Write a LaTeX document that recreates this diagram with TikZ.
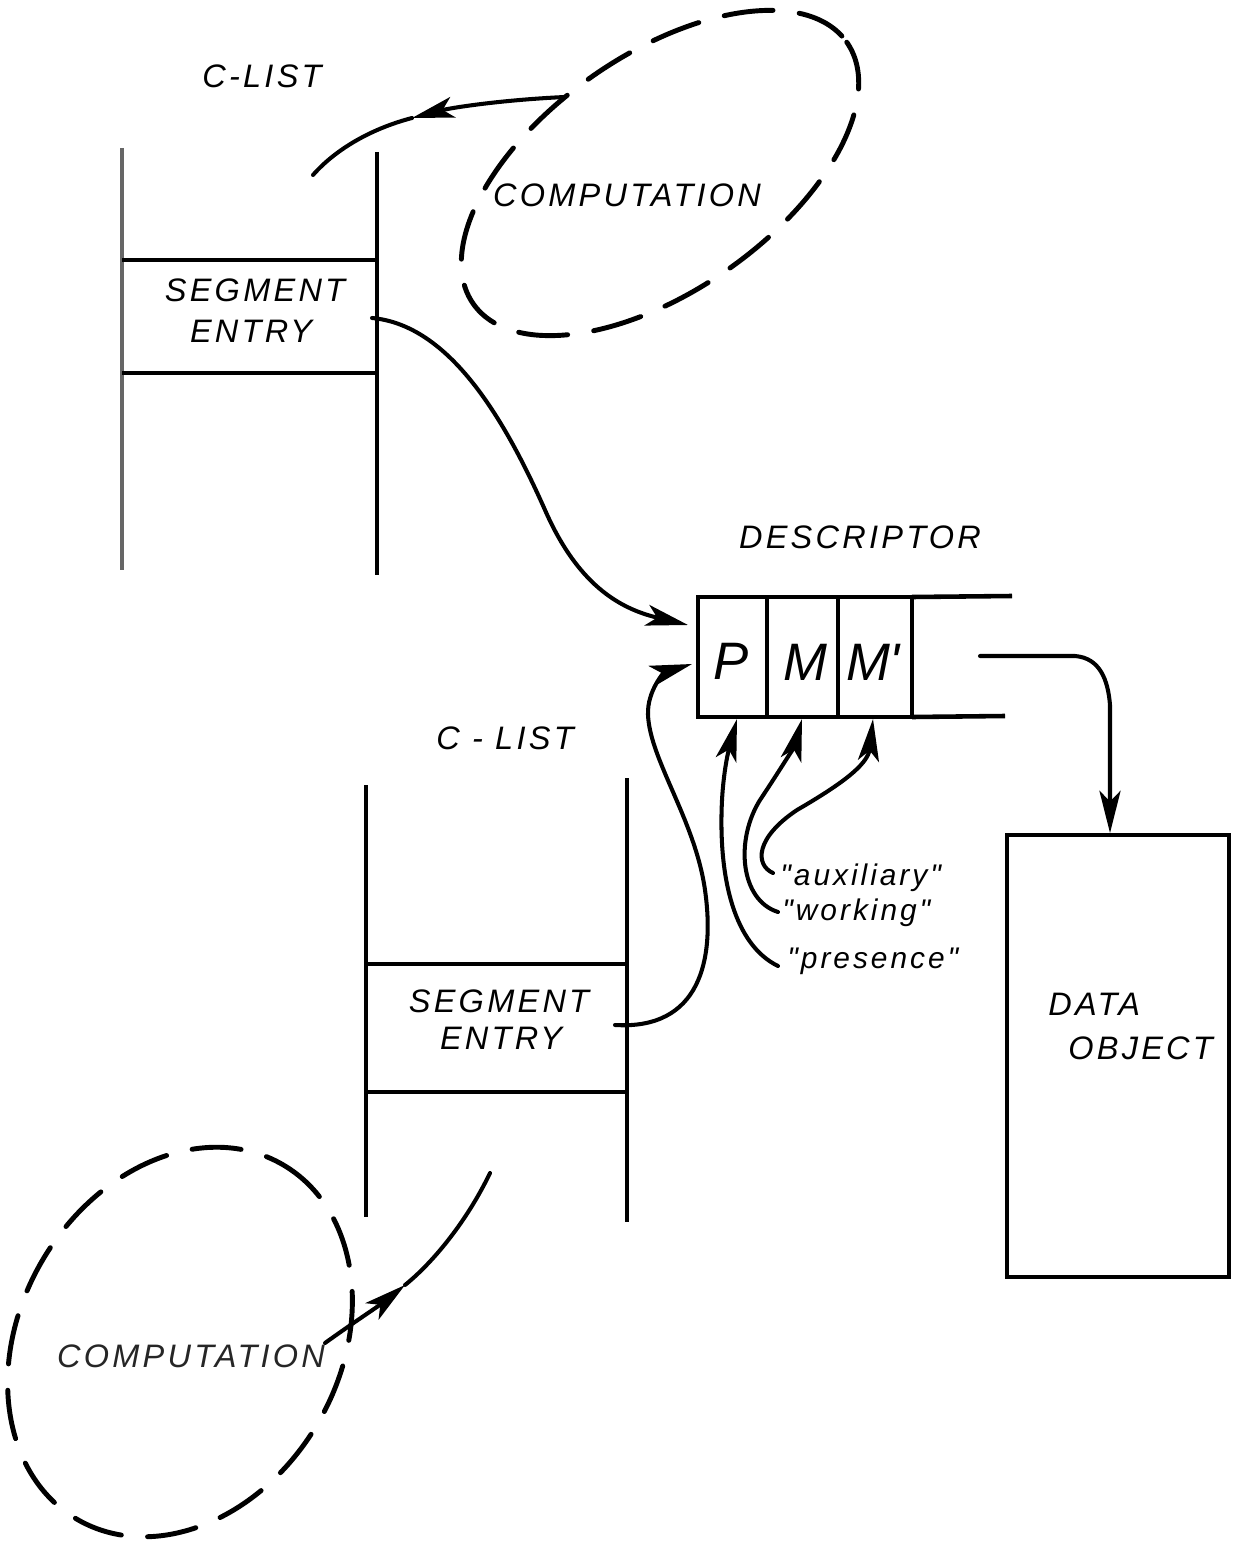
\documentclass[tikz,border=0pt]{standalone}
\usepackage{fontspec}
\newfontfamily\lettering[LetterSpace=10]{Liberation Sans}
\newfontfamily\bigletter{Liberation Sans}
\usetikzlibrary{arrows.meta}
\begin{document}
\begin{tikzpicture}[x=0.02cm,y=-0.02cm,
  ln/.style={line width=2.6pt,black},
  lightln/.style={line width=2.2pt,black!60},
  dashloop/.style={line width=2.8pt,dash pattern=on 28pt off 15pt,line cap=round},
  conn/.style={line width=2.3pt,line cap=round},
  tipend/.style={-{Stealth[length=24pt,width=12pt,inset=6pt]}},
  lbl/.style={font=\lettering\itshape\fontsize{18.5}{20}\selectfont,inner sep=0pt},
  small/.style={font=\lettering\itshape\fontsize{17}{19}\selectfont,inner sep=0pt,anchor=west},
  cell/.style={font=\bigletter\itshape\fontsize{30}{32}\selectfont,inner sep=0pt}
]
\useasboundingbox (0,0) rectangle (1233,1547);

% ---------- top C-list ----------
\node[lbl] (clist1) at (262,76) {C-LIST};
\coordinate (t1a) at (122,148); \coordinate (t1b) at (122,570);
\coordinate (t2a) at (377,152); \coordinate (t2b) at (377,575);
\draw[lightln] (t1a) -- (t1b);
\draw[ln] (t2a) -- (t2b);
\coordinate (h1a) at (122,260); \coordinate (h1b) at (377,260);
\coordinate (h2a) at (122,373); \coordinate (h2b) at (377,373);
\draw[ln] (h1a) -- (h1b);
\draw[ln] (h2a) -- (h2b);
\node[lbl] (seg1) at (255,290) {SEGMENT};
\node[lbl] (ent1) at (251,331) {ENTRY};

% ---------- top computation ----------
\node[lbl] (comp1) at (627,195) {COMPUTATION};
\coordinate (c1) at (660,173);
\draw[dashloop,rotate around={35:(c1)}] (c1) ellipse [x radius=228,y radius=118];
\coordinate (a1s) at (565,97);
\coordinate (a1m) at (412,118);
\coordinate (a1e) at (313,175);
\draw[conn,tipend] (a1s) .. controls (500,100) and (450,108) .. (a1m);
\draw[conn] (a1m) .. controls (370,129) and (335,150) .. (a1e);

% ---------- descriptor ----------
\node[lbl] (desc) at (860,537) {DESCRIPTOR};
\coordinate (dTL) at (698,597); \coordinate (dBR) at (912,717);
\draw[ln] (dTL) rectangle (dBR);
\coordinate (v1a) at (767,597); \coordinate (v1b) at (767,717);
\coordinate (v2a) at (838,597); \coordinate (v2b) at (838,717);
\draw[ln] (v1a) -- (v1b);
\draw[ln] (v2a) -- (v2b);
\coordinate (ext1) at (1012,596); \coordinate (ext2) at (1005,716);
\draw[ln] (912,597) -- (ext1);
\draw[ln] (912,717) -- (ext2);
\node[cell] (P) at (731,661) {P};
\node[cell] (M) at (805,662) {M};
\node[cell] (Mp) at (873,662) {M'};

% segment entry (top) -> descriptor
\coordinate (se1) at (372,318);
\coordinate (din1) at (688,625);
\draw[conn,tipend] (se1) .. controls (450,325) and (505,420) .. (545,510)
  .. controls (580,590) and (625,610) .. (din1);

% ---------- bottom C-list ----------
\node[lbl] (clist2) at (505,738) {C - LIST};
\coordinate (b1a) at (366,785); \coordinate (b1b) at (366,1217);
\coordinate (b2a) at (627,778); \coordinate (b2b) at (627,1222);
\draw[ln] (b1a) -- (b1b);
\draw[ln] (b2a) -- (b2b);
\coordinate (bh1a) at (366,964); \coordinate (bh1b) at (627,964);
\coordinate (bh2a) at (366,1092); \coordinate (bh2b) at (627,1092);
\draw[ln] (bh1a) -- (bh1b);
\draw[ln] (bh2a) -- (bh2b);
\node[lbl] (seg2) at (499,1001) {SEGMENT};
\node[lbl] (ent2) at (501,1038) {ENTRY};

% segment entry (bottom) -> descriptor
\coordinate (se2) at (615,1025);
\coordinate (din2) at (692,664);
\draw[conn,tipend] (se2) .. controls (700,1030) and (715,960) .. (705,890)
  .. controls (695,820) and (650,760) .. (648,715)
  .. controls (647,690) and (665,672) .. (din2);

% ---------- labels and their arrows ----------
\node[small] (aux) at (780,878) {"auxiliary"};
\node[small] (work) at (782,913) {"working"};
\node[small] (pres) at (787,961) {"presence"};
\coordinate (auxS) at (773,873); \coordinate (auxT) at (873,719);
\coordinate (workS) at (778,912); \coordinate (workT) at (802,719);
\coordinate (presS) at (778,966); \coordinate (presT) at (737,719);
\draw[conn,tipend] (presS) .. controls (735,945) and (718,880) .. (722,800)
  .. controls (724,765) and (730,745) .. (presT);
\draw[conn,tipend] (workS) .. controls (740,900) and (735,840) .. (760,800)
  .. controls (780,770) and (795,745) .. (workT);
\draw[conn,tipend] (auxS) .. controls (755,865) and (755,838) .. (797,810)
  .. controls (840,785) and (868,765) .. (auxT);

% ---------- data object ----------
\coordinate (doTL) at (1007,835); \coordinate (doBR) at (1229,1277);
\draw[ln] (doTL) rectangle (doBR);
\node[lbl,anchor=west] (data) at (1048,1004) {DATA};
\node[lbl,anchor=west] (obj) at (1068,1048) {OBJECT};
\coordinate (dOut) at (980,656);
\coordinate (doIn) at (1110,833);
\draw[conn,tipend] (dOut) -- (1075,656) .. controls (1100,658) and (1108,680) .. (1110,705) -- (doIn);

% ---------- bottom computation ----------
\node[lbl,text=black!85] (comp2) at (191,1356) {COMPUTATION};
\coordinate (c2) at (180,1342);
\draw[dashloop,rotate around={60:(c2)}] (c2) ellipse [x radius=205,y radius=160];
\coordinate (a2s) at (325,1343);
\coordinate (a2m) at (405,1285);
\coordinate (a2e) at (490,1173);
\draw[conn,tipend] (a2s) .. controls (350,1325) and (380,1305) .. (a2m);
\draw[conn] (a2m) .. controls (430,1265) and (465,1225) .. (a2e);
\end{tikzpicture}
\end{document}
